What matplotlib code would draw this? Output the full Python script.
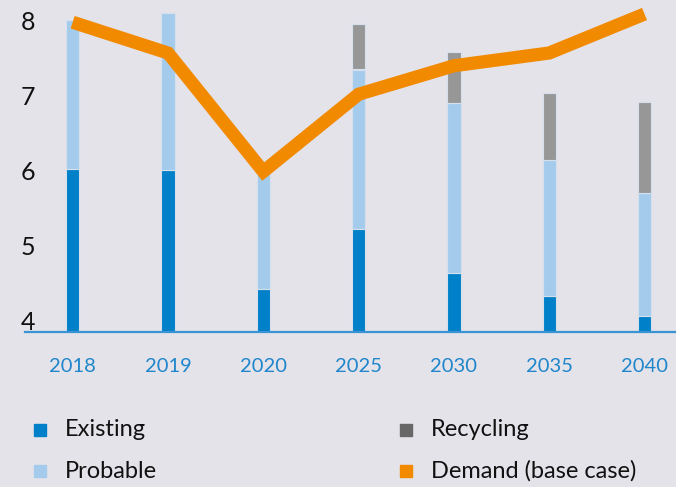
import matplotlib.pyplot as plt
import matplotlib.transforms as mtransforms
from matplotlib.patches import Rectangle

# ---------------------------
# Data
# ---------------------------
years = ["2018", "2019", "2020", "2025", "2030", "2035", "2040"]
existing = [6.17, 6.16, 4.57, 5.38, 4.78, 4.48, 4.22]
probable = [1.99, 2.09, 1.55, 2.12, 2.27, 1.81, 1.63]
recycling = [0.0, 0.0, 0.0, 0.60, 0.68, 0.89, 1.21]
demand = [8.13, 7.72, 6.14, 7.17, 7.55, 7.72, 8.24]

y_ticks = [4, 5, 6, 7, 8]
legend_labels = ["Existing", "Probable", "Recycling", "Demand (base case)"]

# ---------------------------
# Style
# ---------------------------
BG = "#e4e3ea"
C_EXIST = "#0080c8"
C_PROB = "#a5cbec"
C_RECY = "#979797"
C_RECY_LEG = "#676767"
C_DEM = "#f28a00"
C_AXIS = "#3a93d3"
FONT = "Lato"

plt.rcParams["font.family"] = [FONT, "DejaVu Sans"]

fig = plt.figure(figsize=(6.76, 4.87), dpi=100, facecolor=BG)
ax = fig.add_axes([25 / 676, 1 - 332 / 487, 1 - 25 / 676, 332 / 487])
ax.set_facecolor(BG)

x = list(range(len(years)))
w = 0.14
edge = dict(edgecolor="#d6e0ec", linewidth=0.8)

ax.bar(x, existing, width=w, color=C_EXIST, zorder=2, **edge)
ax.bar(x, probable, width=w, bottom=existing, color=C_PROB, zorder=2, **edge)
bot2 = [e + p for e, p in zip(existing, probable)]
rx = [i for i, r in zip(x, recycling) if r > 0]
rv = [r for r in recycling if r > 0]
rb = [b for b, r in zip(bot2, recycling) if r > 0]
ax.bar(rx, rv, width=w, bottom=rb, color=C_RECY, zorder=2, **edge)

ax.plot(x, demand, color=C_DEM, linewidth=9.5, solid_joinstyle="miter",
        solid_capstyle="butt", zorder=3)

ax.set_xlim(-0.5, 6.33)
ax.set_ylim(4, 4 + 332 / 75)

for s in ["top", "right", "left"]:
    ax.spines[s].set_visible(False)
ax.spines["bottom"].set_color(C_AXIS)
ax.spines["bottom"].set_linewidth(1.6)
ax.spines["bottom"].set_zorder(4)

ax.set_xticks(x)
ax.set_xticklabels(years, color="#1f86cc", fontsize=14.5)
ax.tick_params(axis="x", length=0, pad=19)
ax.set_yticks([])

# y labels sit on their values, inside the left margin
trans = mtransforms.blended_transform_factory(fig.transFigure, ax.transData)
for v in y_ticks:
    ax.text(27.5 / 676, v - 0.03, str(v), transform=trans, ha="center", va="bottom",
            fontsize=18, color="#111111", clip_on=False)

# ---------------------------
# Legend
# ---------------------------
leg_colors = [C_EXIST, C_PROB, C_RECY_LEG, C_DEM]
leg_pos = [(34, 430), (34, 471), (400, 430), (400, 471)]
for lab, col, (px, py) in zip(legend_labels, leg_colors, leg_pos):
    fig.add_artist(Rectangle((px / 676, 1 - (py + 6) / 487), 12 / 676, 12 / 487,
                             transform=fig.transFigure, color=col))
    fig.text((px + 31) / 676, 1 - py / 487, lab, ha="left", va="center",
             fontsize=17, color="#111111")

fig.savefig("out.png", dpi=100, facecolor=BG)
